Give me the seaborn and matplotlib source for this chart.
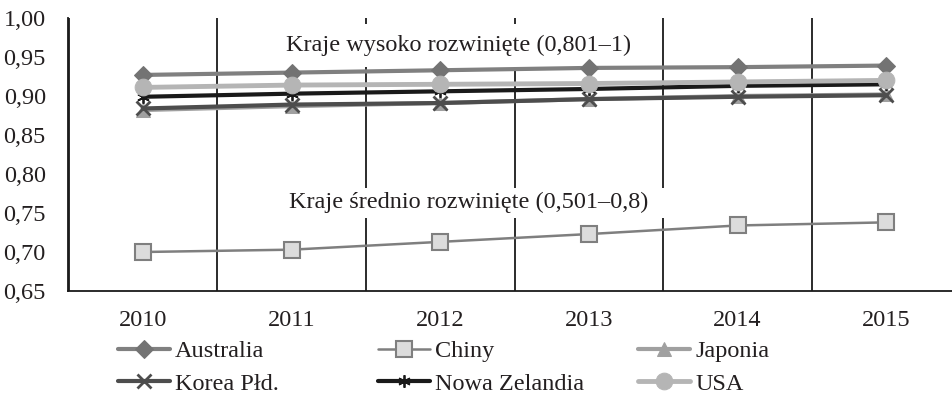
import matplotlib
matplotlib.use("Agg")
import matplotlib.pyplot as plt
import seaborn as sns

years = ["2010", "2011", "2012", "2013", "2014", "2015"]
countries = ["Australia", "Chiny", "Japonia", "Korea Płd.", "Nowa Zelandia", "USA"]

australia = [0.927, 0.930, 0.933, 0.936, 0.937, 0.939]
chiny = [0.700, 0.703, 0.713, 0.723, 0.734, 0.738]
japonia = [0.882, 0.887, 0.891, 0.896, 0.900, 0.902]
korea = [0.884, 0.889, 0.891, 0.896, 0.899, 0.901]
nowa_zelandia = [0.899, 0.903, 0.906, 0.909, 0.913, 0.915]
usa = [0.911, 0.914, 0.915, 0.916, 0.918, 0.920]

y_ticks = [0.65, 0.70, 0.75, 0.80, 0.85, 0.90, 0.95, 1.00]
label_high = "Kraje wysoko rozwinięte (0,801–1)"
label_mid = "Kraje średnio rozwinięte (0,501–0,8)"

sns.set_style("white")
SERIF = ["Liberation Serif", "DejaVu Serif"]
INK = "#231f20"
plt.rcParams["font.family"] = SERIF
plt.rcParams["text.color"] = INK
plt.rcParams["xtick.labelcolor"] = INK
plt.rcParams["ytick.labelcolor"] = INK
FS = 17.5

styles = {
    "Australia": dict(color="#808080", marker="D", markersize=9, markerfacecolor="#737373",
                      markeredgecolor="#737373", linewidth=3.0),
    "Chiny": dict(color="#7f7f7f", marker="s", markersize=11, markerfacecolor="#dcdcdc",
                  markeredgecolor="#7f7f7f", markeredgewidth=1.5, linewidth=1.8),
    "Japonia": dict(color="#a0a0a0", marker="^", markersize=10, markerfacecolor="#a0a0a0",
                    markeredgecolor="#a0a0a0", linewidth=3.0),
    "Korea Płd.": dict(color="#4d4d4d", marker="x", markersize=10, markeredgecolor="#4d4d4d",
                       markeredgewidth=2.0, linewidth=3.0),
    "Nowa Zelandia": dict(color="#1a1a1a", marker=(6, 2, 0), markersize=9,
                          markeredgecolor="#1a1a1a", markeredgewidth=1.3, linewidth=3.0),
    "USA": dict(color="#b5b5b5", marker="o", markersize=12, markerfacecolor="#b5b5b5",
                markeredgecolor="#b5b5b5", linewidth=3.5),
}
series = [australia, chiny, japonia, korea, nowa_zelandia, usa]

fig = plt.figure(figsize=(9.53, 4.07), dpi=100)
ax = fig.add_axes([68 / 953, 116 / 407, 885 / 953, 273 / 407])

x = list(range(len(years)))
handles = []
for i, (name, vals) in enumerate(zip(countries, series)):
    sns.lineplot(x=x, y=vals, ax=ax, legend=False, zorder=3 + i, **styles[name])
    line = ax.get_lines()[-1]
    line.set_label(name)
    handles.append(line)

ax.set_xlim(-0.505, 5.45)
ax.set_ylim(0.65, 1.00)
ax.set_yticks(y_ticks)
ax.set_yticklabels([f"{v:.2f}".replace(".", ",") for v in y_ticks], fontsize=FS)
ax.set_xticks(x)
ax.set_xticklabels(years, fontsize=FS)
ax.set_xticks([-0.5, 0.5, 1.5, 2.5, 3.5, 4.5], minor=True)
ax.tick_params(axis="x", which="major", length=0, pad=14)
ax.tick_params(axis="x", which="minor", length=6, width=1.3, color="black", direction="out")
ax.tick_params(axis="y", length=6, width=1.3, color="black", direction="out", pad=10)
ax.grid(False)
ax.grid(which="minor", axis="x", color="#1a1a1a", linewidth=1.3)
ax.set_axisbelow(True)
ax.set_xlabel("")
ax.set_ylabel("")

for side in ["top", "right"]:
    ax.spines[side].set_visible(False)
for side in ["left", "bottom"]:
    ax.spines[side].set_color("#1a1a1a")
    ax.spines[side].set_linewidth(1.3)

# white boxes behind the group labels hide the vertical lines
t1 = ax.text(2.12, 0.965, label_high, fontsize=FS, ha="center", va="center",
             bbox=dict(facecolor="white", edgecolor="none", boxstyle="square,pad=0.45"),
             zorder=2.5, clip_on=False)
t2 = ax.text(2.19, 0.763, label_mid, fontsize=FS, ha="center", va="center",
             bbox=dict(facecolor="white", edgecolor="none", boxstyle="square,pad=0.7"),
             zorder=2.5)
t2.get_bbox_patch().set_mutation_aspect(0.25)

legend_x = [118 / 953, 378 / 953, 638 / 953]
for col in range(3):
    hs = [handles[col], handles[col + 3]]
    fig.legend(handles=hs, labels=[h.get_label() for h in hs], loc="upper left",
               bbox_to_anchor=(legend_x[col], 1 - 340 / 407), frameon=False,
               prop={"family": SERIF, "size": FS}, handlelength=2.15, handletextpad=0.2,
               borderpad=0, borderaxespad=0, labelspacing=0.45)

fig.savefig("out.png", dpi=100)
